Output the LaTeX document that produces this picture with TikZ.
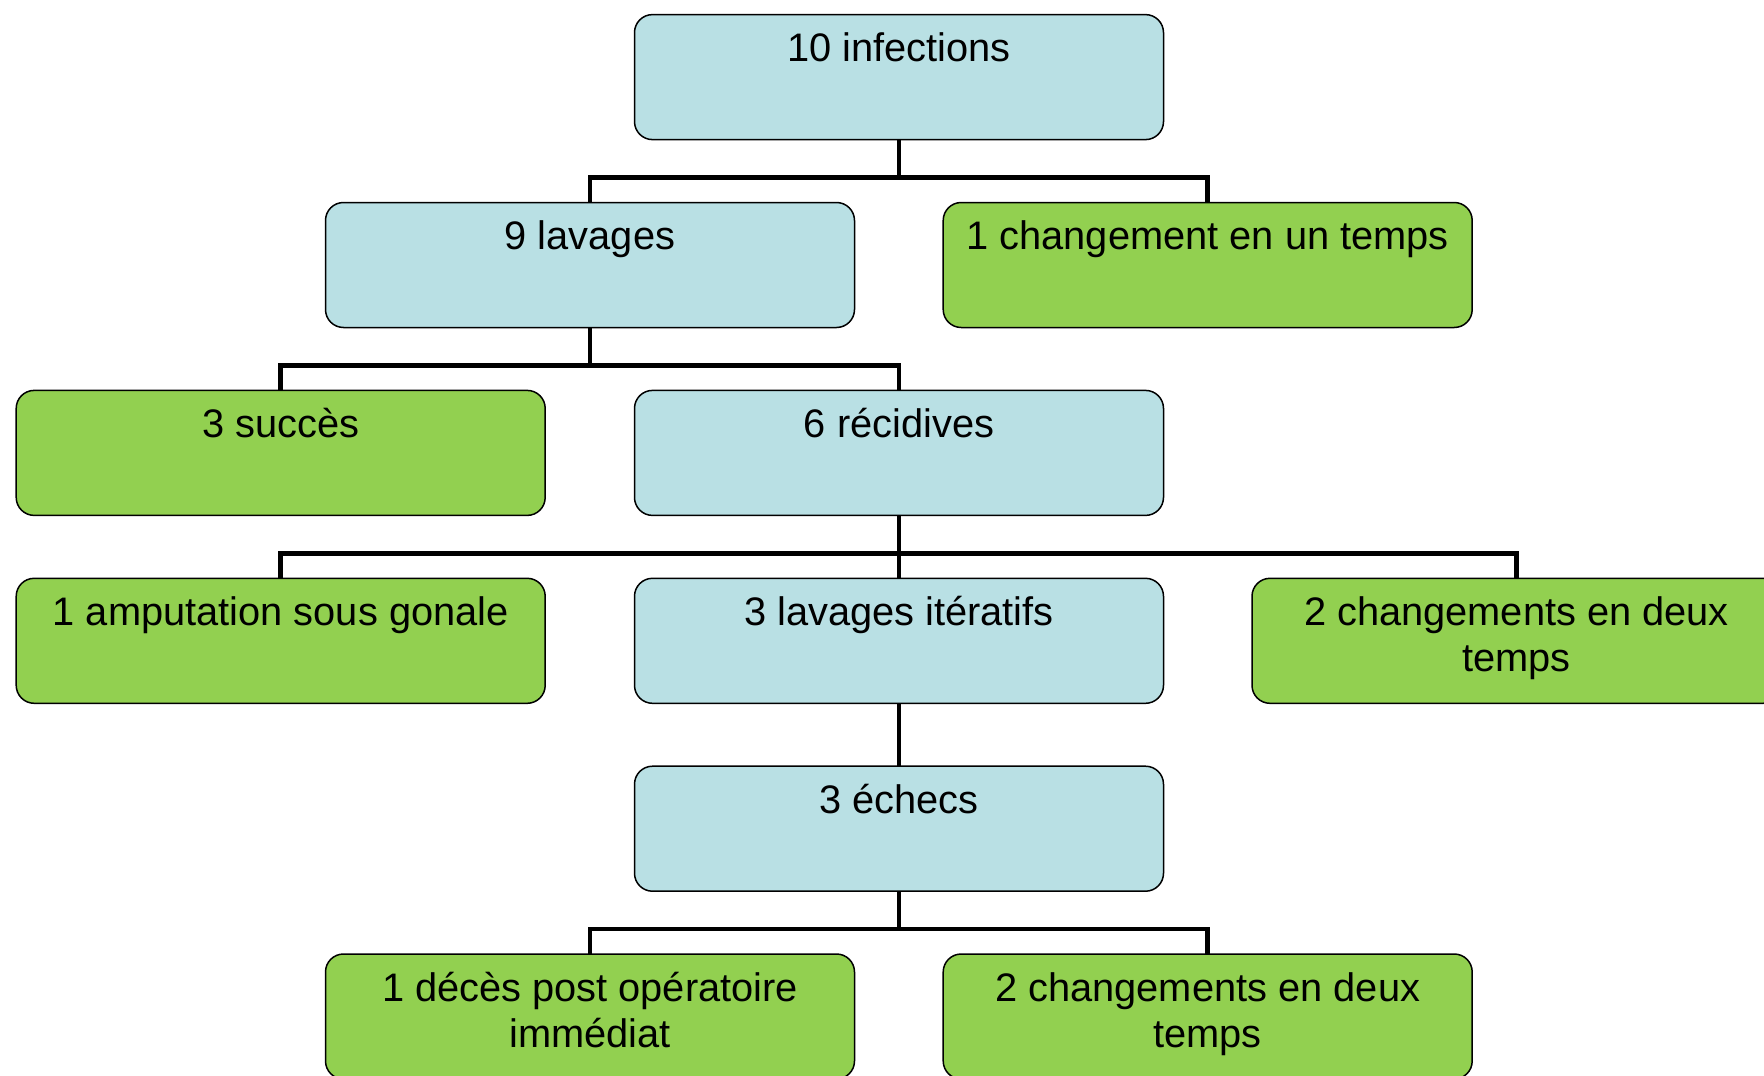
\documentclass[tikz,border=0pt]{standalone}
\usepackage{fontspec}
\setmainfont{Liberation Sans}
\definecolor{boxblue}{RGB}{185,224,228}
\definecolor{boxgreen}{RGB}{146,208,80}
\newcommand{\bxt}[1]{\parbox[t][125pt][t]{520pt}{\vspace*{7pt}\centering\fontsize{39.8pt}{46pt}\selectfont\hyphenpenalty=10000\rule{0pt}{40pt}#1\par}}
\tikzset{
  bx/.style={draw=black, line width=1.5pt, rounded corners=18pt, inner sep=0pt, outer sep=0pt,
    minimum width=529pt, minimum height=125pt, anchor=north},
  bblue/.style={bx, fill=boxblue},
  bgreen/.style={bx, fill=boxgreen},
  conn/.style={draw=black, line width=4.5pt}
}
\begin{document}
\begin{tikzpicture}[x=1pt,y=-1pt]
\useasboundingbox (0,0) rectangle (1764,1076);
\node[bblue]  (inf)  at (899,14.6)  {\bxt{10 infections}};
\node[bblue]  (lav)  at (590,202.5) {\bxt{9 lavages}};
\node[bgreen] (chg)  at (1207.7,202.5) {\bxt{1 changement en un temps}};
\node[bgreen] (suc)  at (280.7,390.4) {\bxt{3 succès}};
\node[bblue]  (rec)  at (899,390.4) {\bxt{6 récidives}};
\node[bgreen] (amp)  at (280.7,578.3) {\bxt{1 amputation sous gonale}};
\node[bblue]  (ite)  at (899,578.3) {\bxt{3 lavages itératifs}};
\node[bgreen] (chd)  at (1516.5,578.3) {\bxt{2 changements en deux temps}};
\node[bblue]  (ech)  at (899,766.2) {\bxt{3 échecs}};
\node[bgreen] (dec)  at (590,954) {\bxt{1 décès post opératoire immédiat}};
\node[bgreen] (chd2) at (1207.7,954) {\bxt{2 changements en deux temps}};
\begin{scope}[on background layer/.style={}]
\foreach \p/\c in {inf/lav, inf/chg, lav/suc, lav/rec, rec/amp, rec/ite, rec/chd, ech/dec, ech/chd2}{
  \draw[conn] (\p.south) -- ([yshift=-38pt]\p.south) -| (\c.north);
}
\draw[conn] (ite.south) -- (ech.north);
\end{scope}
\end{tikzpicture}
\end{document}
